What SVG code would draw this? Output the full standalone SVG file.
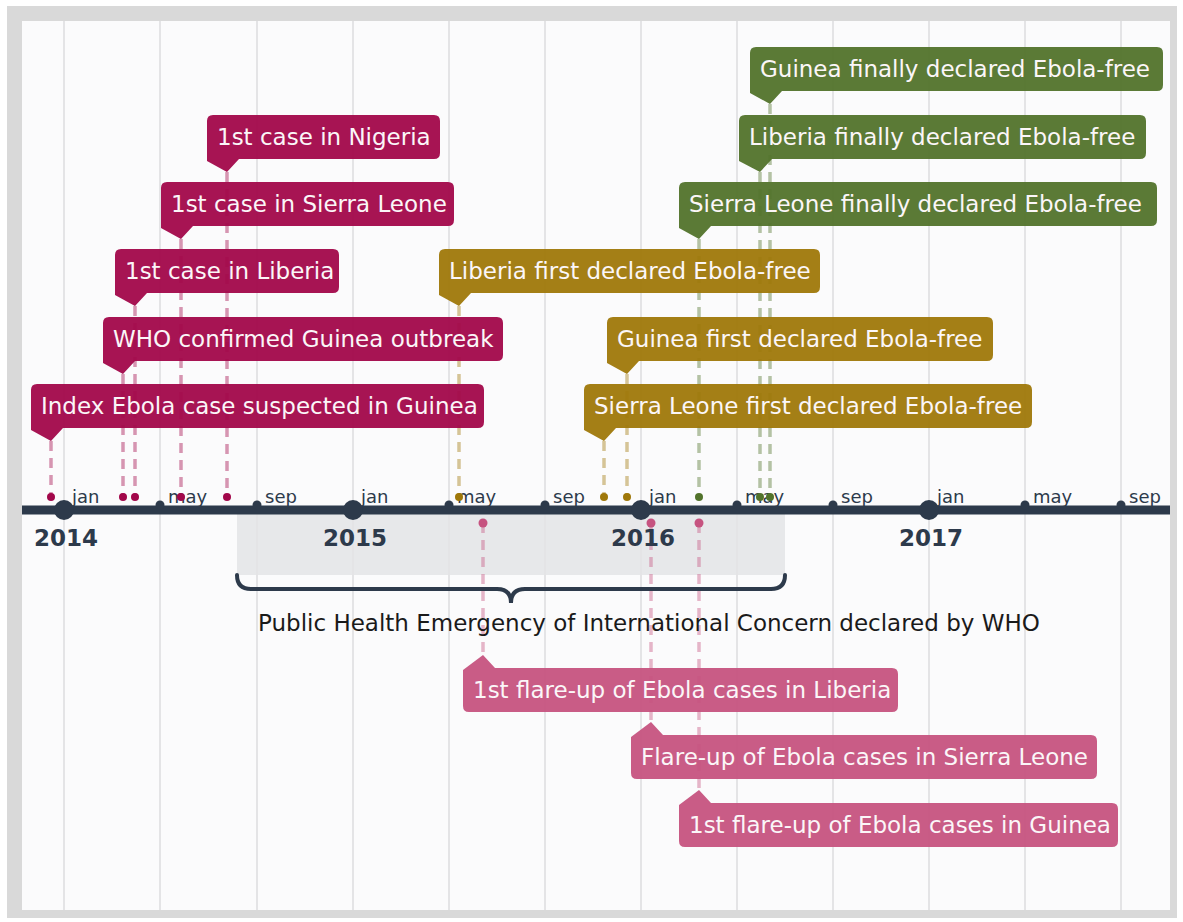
<svg xmlns="http://www.w3.org/2000/svg" width="1183" height="922" viewBox="0 0 1183 922">
<style>
.grid{stroke:#e4e4e6;stroke-width:2}
.lbl{font-family:"DejaVu Sans",sans-serif;font-size:23px;fill:#fbf6f8}
.mon{font-family:"DejaVu Sans",sans-serif;font-size:18px;fill:#2d3a4b}
.yr{font-family:"DejaVu Sans",sans-serif;font-size:23px;font-weight:bold;fill:#2d3a4b;text-anchor:middle}
.note{font-family:"DejaVu Sans",sans-serif;font-size:23px;fill:#1a1a1a}
.box{fill-opacity:0.95}
.dash{stroke-width:3.5;stroke-dasharray:10 7;fill:none}
.c1{fill:#a2074a}.c2{fill:#9f780a}.c3{fill:#52732b}.c4{fill:#c65380}
.d1{stroke:#a2074a;stroke-opacity:0.42}.d2{stroke:#9f780a;stroke-opacity:0.42}.d3{stroke:#52732b;stroke-opacity:0.42}.d4{stroke:#c65380;stroke-opacity:0.42}
.tick{fill:#2d3a4b}
</style>
<rect x="0" y="0" width="1183" height="922" fill="#ffffff"/>
<rect x="7" y="6" width="1170" height="912" fill="#d9d9d9"/>
<rect x="22" y="21" width="1148" height="889" fill="#fbfbfc"/>
<rect x="237" y="510" width="548" height="65" fill="#e7e8ea"/>
<g id="grid">
<line class="grid" x1="64" y1="21" x2="64" y2="910"/>
<line class="grid" x1="160" y1="21" x2="160" y2="910"/>
<line class="grid" x1="257" y1="21" x2="257" y2="910"/>
<line class="grid" x1="353" y1="21" x2="353" y2="910"/>
<line class="grid" x1="449" y1="21" x2="449" y2="910"/>
<line class="grid" x1="545" y1="21" x2="545" y2="910"/>
<line class="grid" x1="641" y1="21" x2="641" y2="910"/>
<line class="grid" x1="737" y1="21" x2="737" y2="910"/>
<line class="grid" x1="833" y1="21" x2="833" y2="910"/>
<line class="grid" x1="929" y1="21" x2="929" y2="910"/>
<line class="grid" x1="1025" y1="21" x2="1025" y2="910"/>
<line class="grid" x1="1121" y1="21" x2="1121" y2="910"/>
</g>
<g id="connectors">
<line class="dash d1" x1="227" y1="172" x2="227" y2="497"/>
<line class="dash d1" x1="181" y1="239" x2="181" y2="497"/>
<line class="dash d1" x1="135" y1="306" x2="135" y2="497"/>
<line class="dash d1" x1="123" y1="374" x2="123" y2="497"/>
<line class="dash d1" x1="51" y1="441" x2="51" y2="497"/>
<line class="dash d2" x1="459" y1="306" x2="459" y2="497"/>
<line class="dash d2" x1="627" y1="374" x2="627" y2="497"/>
<line class="dash d2" x1="604" y1="441" x2="604" y2="497"/>
<line class="dash d3" x1="770" y1="104" x2="770" y2="497"/>
<line class="dash d3" x1="760" y1="172" x2="760" y2="497"/>
<line class="dash d3" x1="699" y1="239" x2="699" y2="497"/>
<line class="dash d4" x1="483" y1="523" x2="483" y2="655"/>
<line class="dash d4" x1="651" y1="523" x2="651" y2="722"/>
<line class="dash d4" x1="699" y1="523" x2="699" y2="790"/>
</g>
<g id="axis">
<line x1="22" y1="510" x2="1170" y2="510" stroke="#2d3a4b" stroke-width="9"/>
<circle class="tick" cx="64" cy="510" r="10"/>
<circle class="tick" cx="353" cy="510" r="10"/>
<circle class="tick" cx="641" cy="510" r="10"/>
<circle class="tick" cx="929" cy="510" r="10"/>
<circle class="tick" cx="160" cy="505" r="4.5"/>
<circle class="tick" cx="257" cy="505" r="4.5"/>
<circle class="tick" cx="449" cy="505" r="4.5"/>
<circle class="tick" cx="545" cy="505" r="4.5"/>
<circle class="tick" cx="737" cy="505" r="4.5"/>
<circle class="tick" cx="833" cy="505" r="4.5"/>
<circle class="tick" cx="1025" cy="505" r="4.5"/>
<circle class="tick" cx="1121" cy="505" r="4.5"/>
<text class="mon" x="72" y="503">jan</text>
<text class="mon" x="168" y="503">may</text>
<text class="mon" x="265" y="503">sep</text>
<text class="mon" x="361" y="503">jan</text>
<text class="mon" x="457" y="503">may</text>
<text class="mon" x="553" y="503">sep</text>
<text class="mon" x="649" y="503">jan</text>
<text class="mon" x="745" y="503">may</text>
<text class="mon" x="841" y="503">sep</text>
<text class="mon" x="937" y="503">jan</text>
<text class="mon" x="1033" y="503">may</text>
<text class="mon" x="1129" y="503">sep</text>
<text class="yr" x="66" y="546">2014</text>
<text class="yr" x="355" y="546">2015</text>
<text class="yr" x="643" y="546">2016</text>
<text class="yr" x="931" y="546">2017</text>
</g>
<g id="dots">
<circle class="c1" cx="227" cy="497" r="4"/>
<circle class="c1" cx="181" cy="497" r="4"/>
<circle class="c1" cx="135" cy="497" r="4"/>
<circle class="c1" cx="123" cy="497" r="4"/>
<circle class="c1" cx="51" cy="497" r="4"/>
<circle class="c2" cx="459" cy="497" r="4"/>
<circle class="c2" cx="627" cy="497" r="4"/>
<circle class="c2" cx="604" cy="497" r="4"/>
<circle class="c3" cx="770" cy="497" r="4"/>
<circle class="c3" cx="760" cy="497" r="4"/>
<circle class="c3" cx="699" cy="497" r="4"/>
<circle class="c4" cx="483" cy="523" r="4.5"/>
<circle class="c4" cx="651" cy="523" r="4.5"/>
<circle class="c4" cx="699" cy="523" r="4.5"/>
</g>
<g id="pheic">
<path d="M237,575 Q237,589 251,589 H497 Q511,589 511,603 Q511,589 525,589 H771 Q785,589 785,575" fill="none" stroke="#2d3a4b" stroke-width="4" stroke-linecap="round"/>
<text class="note" x="258" y="631">Public Health Emergency of International Concern declared by WHO</text>
</g>
<g id="n-index">
<path class="box c1" d="M37,384 H478 Q484,384 484,390 V422 Q484,428 478,428 H63 L51,441 L31,430 V390 Q31,384 37,384 Z"/>
<text class="lbl" x="41" y="414">Index Ebola case suspected in Guinea</text>
</g>
<g id="n-who">
<path class="box c1" d="M109,317 H497 Q503,317 503,323 V355 Q503,361 497,361 H135 L123,374 L103,363 V323 Q103,317 109,317 Z"/>
<text class="lbl" x="113" y="347">WHO confirmed Guinea outbreak</text>
</g>
<g id="n-liberia">
<path class="box c1" d="M121,249 H333 Q339,249 339,255 V287 Q339,293 333,293 H147 L135,306 L115,295 V255 Q115,249 121,249 Z"/>
<text class="lbl" x="125" y="279">1st case in Liberia</text>
</g>
<g id="n-sierra">
<path class="box c1" d="M167,182 H448 Q454,182 454,188 V220 Q454,226 448,226 H193 L181,239 L161,228 V188 Q161,182 167,182 Z"/>
<text class="lbl" x="171" y="212">1st case in Sierra Leone</text>
</g>
<g id="n-nigeria">
<path class="box c1" d="M213,115 H434 Q440,115 440,121 V153 Q440,159 434,159 H239 L227,172 L207,161 V121 Q207,115 213,115 Z"/>
<text class="lbl" x="217" y="145">1st case in Nigeria</text>
</g>
<g id="n-liberia-first">
<path class="box c2" d="M445,249 H814 Q820,249 820,255 V287 Q820,293 814,293 H471 L459,306 L439,295 V255 Q439,249 445,249 Z"/>
<text class="lbl" x="449" y="279">Liberia first declared Ebola-free</text>
</g>
<g id="n-guinea-first">
<path class="box c2" d="M613,317 H987 Q993,317 993,323 V355 Q993,361 987,361 H639 L627,374 L607,363 V323 Q607,317 613,317 Z"/>
<text class="lbl" x="617" y="347">Guinea first declared Ebola-free</text>
</g>
<g id="n-sierra-first">
<path class="box c2" d="M590,384 H1026 Q1032,384 1032,390 V422 Q1032,428 1026,428 H616 L604,441 L584,430 V390 Q584,384 590,384 Z"/>
<text class="lbl" x="594" y="414">Sierra Leone first declared Ebola-free</text>
</g>
<g id="n-guinea-final">
<path class="box c3" d="M756,47 H1157 Q1163,47 1163,53 V85 Q1163,91 1157,91 H782 L770,104 L750,93 V53 Q750,47 756,47 Z"/>
<text class="lbl" x="760" y="77">Guinea finally declared Ebola-free</text>
</g>
<g id="n-liberia-final">
<path class="box c3" d="M745,115 H1140 Q1146,115 1146,121 V153 Q1146,159 1140,159 H772 L760,172 L739,161 V121 Q739,115 745,115 Z"/>
<text class="lbl" x="749" y="145">Liberia finally declared Ebola-free</text>
</g>
<g id="n-sierra-final">
<path class="box c3" d="M685,182 H1151 Q1157,182 1157,188 V220 Q1157,226 1151,226 H711 L699,239 L679,228 V188 Q679,182 685,182 Z"/>
<text class="lbl" x="689" y="212">Sierra Leone finally declared Ebola-free</text>
</g>
<g id="n-flare-liberia">
<path class="box c4" d="M463,670 L483,655 L495,668 H892 Q898,668 898,674 V706 Q898,712 892,712 H469 Q463,712 463,706 Z"/>
<text class="lbl" x="473" y="698">1st flare-up of Ebola cases in Liberia</text>
</g>
<g id="n-flare-sierra">
<path class="box c4" d="M631,737 L651,722 L663,735 H1091 Q1097,735 1097,741 V773 Q1097,779 1091,779 H637 Q631,779 631,773 Z"/>
<text class="lbl" x="641" y="765">Flare-up of Ebola cases in Sierra Leone</text>
</g>
<g id="n-flare-guinea">
<path class="box c4" d="M679,805 L699,790 L711,803 H1112 Q1118,803 1118,809 V841 Q1118,847 1112,847 H685 Q679,847 679,841 Z"/>
<text class="lbl" x="689" y="833">1st flare-up of Ebola cases in Guinea</text>
</g>
</svg>
